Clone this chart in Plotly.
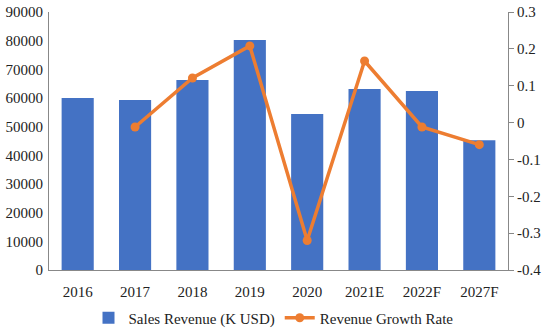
import plotly.graph_objects as go

categories = ["2016", "2017", "2018", "2019", "2020", "2021E", "2022F", "2027F"]
sales_revenue = [60000, 59300, 66300, 80200, 54400, 63100, 62400, 45300]
growth_cats = ["2017", "2018", "2019", "2020", "2021E", "2022F", "2027F"]
growth_rate = [-0.012, 0.121, 0.208, -0.32, 0.167, -0.012, -0.06]

font = dict(family="Liberation Serif, Times New Roman, serif", size=15, color="#222222")

fig = go.Figure()
fig.add_trace(go.Bar(
    x=categories, y=sales_revenue, name="Sales Revenue (K USD)",
    marker=dict(color="#4472C4", line=dict(width=0)), width=0.56,
))
fig.add_trace(go.Scatter(
    x=growth_cats, y=growth_rate, name="Revenue Growth Rate", yaxis="y2",
    mode="lines+markers", line=dict(color="#ED7D31", width=3.5),
    marker=dict(color="#ED7D31", size=9),
))

fig.update_layout(
    width=547, height=335,
    margin=dict(l=49, r=39, t=12, b=65, autoexpand=False),
    paper_bgcolor="white", plot_bgcolor="white",
    font=font,
    showlegend=True,
    legend=dict(orientation="h", x=0.5, xanchor="center", xref="container",
                y=17 / 335, yanchor="middle", yref="container",
                font=dict(size=15), traceorder="normal"),
    xaxis=dict(showline=True, linecolor="#888888", linewidth=1, ticks="",
               showgrid=False, tickfont=dict(size=15), categoryorder="array",
               categoryarray=categories, ticklabelstandoff=8),
    yaxis=dict(range=[0, 90000], dtick=10000, showline=True, linecolor="#888888",
               linewidth=1, showgrid=False, zeroline=False, ticks="",
               tickformat="d", tickfont=dict(size=15), ticklabelstandoff=2),
    yaxis2=dict(range=[-0.4, 0.3], overlaying="y", side="right",
                showline=True, linecolor="#888888", linewidth=1, showgrid=False,
                zeroline=False, ticks="outside", ticklen=5, tickcolor="#888888",
                tickvals=[-0.4, -0.3, -0.2, -0.1, 0, 0.1, 0.2, 0.3],
                ticktext=["-0.4", "-0.3", "-0.2", "-0.1", "0", "0.1", "0.2", "0.3"],
                tickfont=dict(size=15)),
)

fig.write_html("out.html")
